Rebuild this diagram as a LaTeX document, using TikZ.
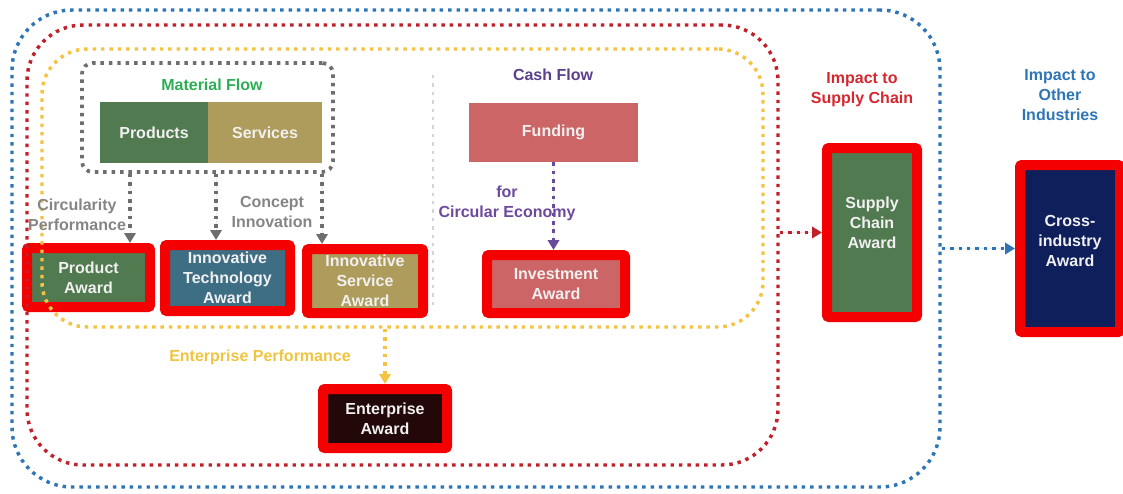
\documentclass[tikz,border=0pt]{standalone}
\usepackage{fontspec}
\setmainfont{Liberation Sans}
\usepackage{xcolor}
\usetikzlibrary{arrows.meta,calc}

\definecolor{frameblue}{HTML}{2E75B6}
\definecolor{framered}{HTML}{C0202A}
\definecolor{frameyellow}{HTML}{F5C342}
\definecolor{dotgray}{HTML}{6E6E6E}
\definecolor{divgray}{HTML}{D3D3DA}
\definecolor{awardred}{HTML}{F50000}
\definecolor{prodgreen}{HTML}{527A50}
\definecolor{servkhaki}{HTML}{AE9C5C}
\definecolor{techblue}{HTML}{3E6E84}
\definecolor{fundred}{HTML}{CC6666}
\definecolor{entdark}{HTML}{220808}
\definecolor{navyblue}{HTML}{0E1F5C}
\definecolor{flowgreen}{HTML}{2DAE55}
\definecolor{cashpurple}{HTML}{5B3F8F}
\definecolor{ecopurple}{HTML}{6B4A9E}
\definecolor{supplyred}{HTML}{D6262E}
\definecolor{enteryellow}{HTML}{F0C43E}
\definecolor{labelgray}{HTML}{858585}

\newcommand{\pxu}{0.75pt}
\newcommand{\lblfont}{\bfseries\fontsize{12}{15}\selectfont}

\begin{document}
\begin{tikzpicture}[x=0.75pt,y=-0.75pt]
  \useasboundingbox (0,0) rectangle (1123,493);
  \tikzstyle{award}=[draw=awardred, line width=7.5pt, rounded corners=1.5pt, text=white!94!black,
    font=\lblfont, align=center, inner sep=0pt]
  \tikzstyle{flowbox}=[text=white!94!black, font=\lblfont, inner sep=0pt]
  \tikzstyle{frame}=[line width=2.6pt, dash pattern=on 2.6pt off 3.7pt, inner sep=0pt]
  \tikzstyle{flowtext}=[font=\lblfont, align=center]
  \tikzstyle{tip}=[-{Triangle[width=8.5pt,length=7.5pt]}]

  \node[flowbox, fill=prodgreen, minimum width=108*\pxu, minimum height=61*\pxu] (prod) at (154,132.5) {Products};
  \node[flowbox, fill=servkhaki, minimum width=114*\pxu, minimum height=61*\pxu] (serv) at (265,132.5) {Services};
  \node[frame, draw=dotgray, line width=2.8pt, minimum width=251*\pxu, minimum height=109*\pxu, rounded corners=8pt] (mat) at (207.5,117.5) {};
  \node[flowbox, fill=fundred, minimum width=169*\pxu, minimum height=59*\pxu] (fund) at (553.5,132.5) {Funding};

  \node[award, fill=prodgreen, minimum width=123*\pxu, minimum height=59*\pxu] (pa) at (88.5,277.5) {Product\\Award};
  \node[award, fill=techblue, minimum width=125*\pxu, minimum height=66*\pxu] (ita) at (227.5,278) {Innovative\\Technology\\Award};
  \node[award, fill=servkhaki, minimum width=116*\pxu, minimum height=64*\pxu] (isa) at (365,281) {Innovative\\Service\\Award};
  \node[award, fill=fundred, minimum width=138*\pxu, minimum height=58*\pxu] (ia) at (556,284) {Investment\\Award};
  \node[award, fill=entdark, minimum width=124*\pxu, minimum height=59*\pxu] (ea) at (385,418.5) {Enterprise\\Award};
  \node[award, fill=prodgreen, minimum width=90*\pxu, minimum height=169*\pxu,
    label={[flowtext, text=white!94!black, yshift=7pt]center:Supply\\Chain\\Award}] (sca) at (872,232.5) {};
  \node[award, fill=navyblue, minimum width=100*\pxu, minimum height=167*\pxu,
    label={[flowtext, text=white!94!black, yshift=6pt]center:Cross-\\industry\\Award}] (cia) at (1070,248.5) {};

  \node[frame, draw=frameblue, minimum width=928*\pxu, minimum height=477*\pxu, rounded corners=45pt] (blueframe) at (476,248.5) {};
  \node[frame, draw=framered, minimum width=751*\pxu, minimum height=440*\pxu, rounded corners=42pt] (redframe) at (402.5,245) {};
  \node[frame, draw=frameyellow, minimum width=721*\pxu, minimum height=278*\pxu, rounded corners=34pt] (yellowframe) at (402.5,188) {};
  \draw[frame, draw=divgray, line width=2.2pt] (433,75) -- (433,305);

  \node[flowtext, text=flowgreen] (matlbl) at (212,85) {Material Flow};
  \node[flowtext, text=cashpurple] (cashlbl) at (553,75) {Cash Flow};
  \node[flowtext, text=labelgray] (circlbl) at (77,215) {Circularity\\Performance};
  \node[flowtext, text=labelgray] (conclbl) at (272,212) {Concept\\Innovation};
  \node[flowtext, text=ecopurple] (ecolbl) at (507,203) {for\\Circular Economy};
  \node[flowtext, text=enteryellow] (entlbl) at (260,357) {Enterprise Performance};
  \node[flowtext, text=supplyred] (suplbl) at (862,90) {Impact to\\Supply Chain};
  \node[flowtext, text=frameblue] (indlbl) at (1060,95) {Impact to\\Other\\Industries};

  \coordinate (pa-in) at ($(pa.north)+(41.5,0)$);
  \coordinate (ita-in) at ($(ita.north)+(-11.5,0)$);
  \coordinate (isa-in) at ($(isa.north)+(-43,0)$);
  \draw[frame, tip, draw=dotgray, fill=dotgray] (mat.south -| pa-in) -- (pa-in);
  \draw[frame, tip, draw=dotgray, fill=dotgray] (mat.south -| ita-in) -- (ita-in);
  \draw[frame, tip, draw=dotgray, fill=dotgray] (mat.south -| isa-in) -- (isa-in);
  \draw[frame, tip, draw=ecopurple, fill=ecopurple] (fund.south) -- (fund.south |- ia.north);
  \draw[frame, tip, draw=frameyellow, fill=frameyellow] (yellowframe.south -| ea.north) -- (ea.north);
  \draw[frame, tip, draw=framered, fill=framered] (redframe.east |- sca.west) -- (sca.west);
  \draw[frame, tip, draw=frameblue, fill=frameblue] (blueframe.east |- cia.west) -- (cia.west);
\end{tikzpicture}
\end{document}
